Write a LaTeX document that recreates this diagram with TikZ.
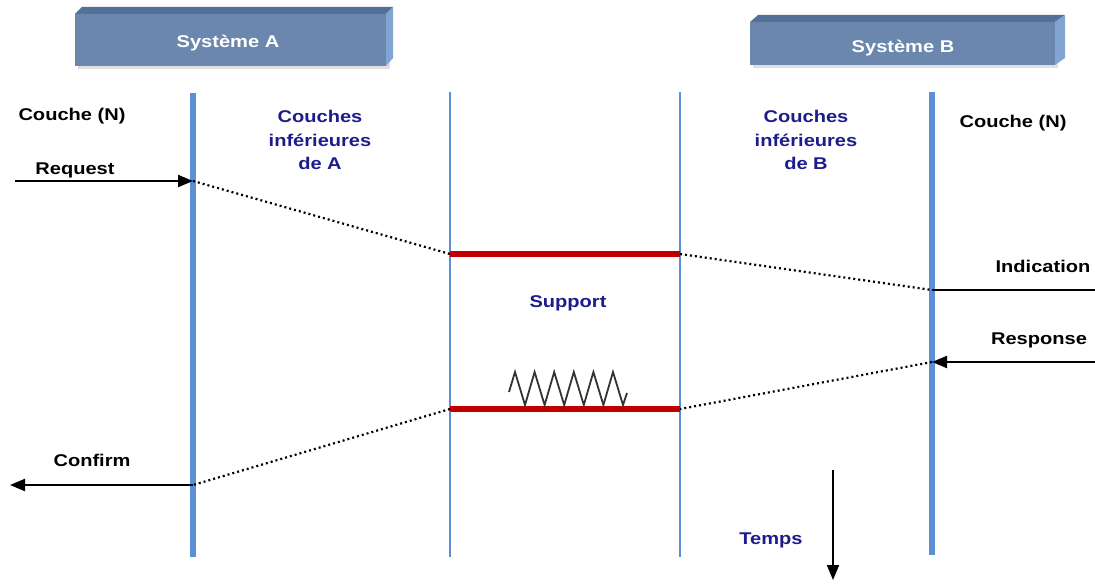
\documentclass[tikz,border=0pt]{standalone}
\usepackage{fontspec}
\setmainfont{Liberation Sans}
\usetikzlibrary{arrows.meta}

\definecolor{slabfront}{HTML}{6B87AE}
\definecolor{slabtop}{HTML}{52709A}
\definecolor{slabside}{HTML}{82A4D2}
\definecolor{layerblue}{HTML}{5B8FD6}
\definecolor{mediumred}{HTML}{C00000}
\definecolor{navytext}{HTML}{1C1C8C}

\tikzset{
  lbl/.style={font=\bfseries\fontsize{17}{23.5}\selectfont, xscale=1.18, inner sep=0pt, align=center},
  layerlbl/.style={lbl, text=navytext},
  thickline/.style={layerblue, line width=6pt},
  thinline/.style={layerblue, line width=1.3pt},
  medium/.style={mediumred, line width=6pt},
  prop/.style={dash pattern=on 2pt off 3pt, line width=2.2pt},
  prim/.style={line width=2pt, -{Triangle[length=15pt,width=12pt]}}
}

\begin{document}
\begin{tikzpicture}[x=1pt,y=-1pt]
\useasboundingbox (0,0) rectangle (1095,585);

% definitions
\coordinate (A1) at (193,93);   \coordinate (A2) at (193,557);
\coordinate (B1) at (932,92);   \coordinate (B2) at (932,555);
\coordinate (L1) at (450,92);   \coordinate (L2) at (450,557);
\coordinate (R1) at (680,92);   \coordinate (R2) at (680,557);
\coordinate (req) at (15,181);  \coordinate (reqA) at (193,181);
\coordinate (up1) at (450,254); \coordinate (up2) at (680,254);
\coordinate (indB) at (932,290); \coordinate (ind) at (1095,290);
\coordinate (res) at (1095,362); \coordinate (resB) at (932,362);
\coordinate (lo1) at (450,409); \coordinate (lo2) at (680,409);
\coordinate (cnfA) at (193,485); \coordinate (cnf) at (10,485);
\coordinate (t1) at (833,470);  \coordinate (t2) at (833,580);

% systems
\fill[gray!25] (78,17) rectangle (390,69);
\fill[slabfront] (75,14) rectangle (386,66);
\fill[slabtop] (75,14) -- (82,7) -- (393,7) -- (386,14) -- cycle;
\fill[slabside] (386,14) -- (393,7) -- (393,58) -- (386,66) -- cycle;
\node[lbl, text=white] (sysA) at (228,43) {Système A};

\fill[gray!25] (753,25) rectangle (1058,68);
\fill[slabfront] (750,22) rectangle (1055,65);
\fill[slabtop] (750,22) -- (758,15) -- (1065,15) -- (1055,22) -- cycle;
\fill[slabside] (1055,22) -- (1065,15) -- (1065,58) -- (1055,65) -- cycle;
\node[lbl, text=white] (sysB) at (903,48) {Système B};

% layers
\draw[thinline] (L1) -- (L2);
\draw[thinline] (R1) -- (R2);
\draw[thickline] (A1) -- (A2);
\draw[thickline] (B1) -- (B2);
\draw[medium] (up1) -- (up2);
\draw[medium] (lo1) -- (lo2);

% noise
\draw[black!80, line width=1.8pt] (509,392)
  \foreach \i in {0,...,5} { -- ({515+19.6*\i},372) -- ({525+19.6*\i},405) }
  -- (627,393);

% primitives
\draw[prim] (req) -- (reqA);
\draw[prop] (reqA) -- (up1);
\draw[prop] (up2) -- (indB);
\draw[line width=2pt] (indB) -- (ind);
\draw[prim] (res) -- (resB);
\draw[prop] (resB) -- (lo2);
\draw[prop] (lo1) -- (cnfA);
\draw[prim] (cnfA) -- (cnf);
\draw[prim] (t1) -- (t2);

% labels
\node[lbl] (cnA) at (72,116) {Couche (N)};
\node[lbl] (cnB) at (1013,123) {Couche (N)};
\node[layerlbl] (infA) at (320,140) {Couches\\inférieures\\de A};
\node[layerlbl] (infB) at (806,140) {Couches\\inférieures\\de B};
\node[layerlbl] (sup) at (568,303) {Support};
\node[lbl] (lreq) at (75,170) {Request};
\node[lbl] (lind) at (1043,266) {Indication};
\node[lbl] (lres) at (1039,340) {Response};
\node[lbl] (lcnf) at (92,460) {Confirm};
\node[layerlbl] (ltps) at (771,540) {Temps};
\end{tikzpicture}
\end{document}
